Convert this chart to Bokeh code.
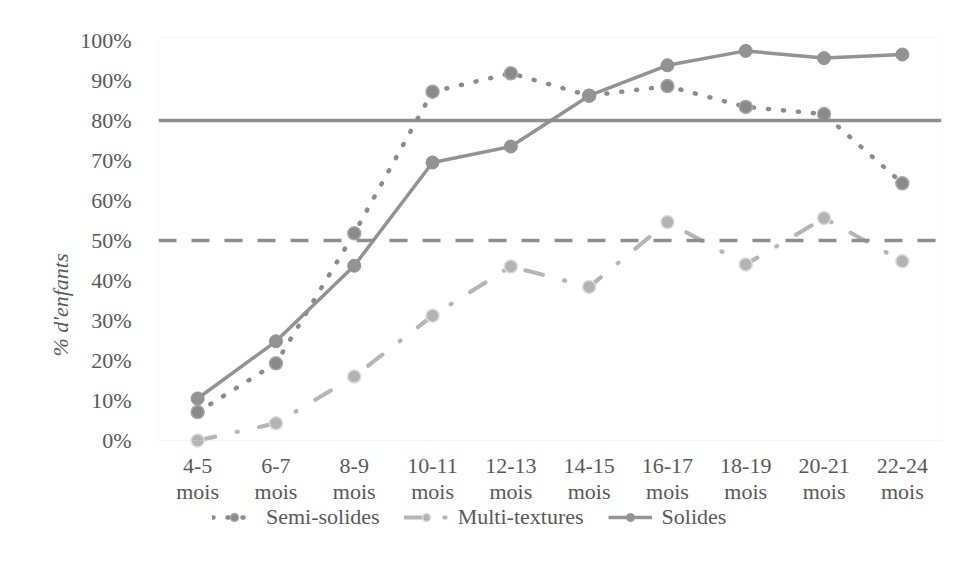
from bokeh.plotting import figure
from bokeh.models import (Range1d, Span, Legend, LegendItem, ColumnDataSource, FixedTicker,
                          BoxAnnotation, Title)
from bokeh.core.properties import value
from bokeh.embed import file_html
from bokeh.resources import INLINE

categories = ["4-5", "6-7", "8-9", "10-11", "12-13", "14-15", "16-17", "18-19", "20-21", "22-24"]
semi_solides = [0.071, 0.193, 0.518, 0.872, 0.918, 0.862, 0.886, 0.834, 0.816, 0.643]
multi_textures = [0.0, 0.043, 0.160, 0.312, 0.435, 0.384, 0.546, 0.440, 0.556, 0.448]
solides = [0.105, 0.248, 0.437, 0.695, 0.735, 0.862, 0.938, 0.974, 0.956, 0.965]
ref_solid = 0.80
ref_dashed = 0.50
y_ticks = [0, 0.1, 0.2, 0.3, 0.4, 0.5, 0.6, 0.7, 0.8, 0.9, 1.0]
x_label_suffix = "mois"
y_title = "% d'enfants"

FONT = "Liberation Serif"
TXT = "#595959"
FS = "22px"

pos = list(range(len(categories)))  # category slot index on the x scale
Y_TOP = 1.0075
Y_BOTTOM = -0.33   # room under the value area for category labels and legend

p = figure(width=950, height=572, x_range=Range1d(-0.5, len(categories) - 0.5),
           y_range=Range1d(Y_BOTTOM, Y_TOP),
           output_backend="svg", toolbar_location=None, x_axis_location=None,
           min_border_left=158, min_border_right=9, min_border_top=37, min_border_bottom=0)
p.outline_line_color = None
p.grid.visible = False

# plot-area border
p.add_layout(BoxAnnotation(left=-0.5, right=len(categories) - 0.5, bottom=0, top=Y_TOP,
                           fill_alpha=0, line_color="#d9d9d9", line_width=1.2))

# y axis
p.yaxis.ticker = FixedTicker(ticks=y_ticks)
p.yaxis.major_label_overrides = {t: f"{int(round(t*100))}%" for t in y_ticks}
p.yaxis.axis_line_color = None
p.yaxis.major_tick_line_color = None
p.yaxis.minor_tick_line_color = None
p.yaxis.major_label_standoff = 21
p.yaxis.major_label_text_font = FONT
p.yaxis.major_label_text_font_size = FS
p.yaxis.major_label_text_color = TXT

p.add_layout(Title(text=y_title, align="center", offset=64, text_font=FONT,
                   text_font_style="italic", text_font_size=FS, text_color=TXT), "left")

# category labels (two lines)
lab = ColumnDataSource(dict(x=pos, cat=categories, suf=[x_label_suffix] * len(categories)))
p.text("x", -0.0625, text="cat", source=lab, text_align="center", text_baseline="middle",
       text_font=value(FONT), text_font_size=value(FS), text_color=TXT)
p.text("x", -0.1275, text="suf", source=lab, text_align="center", text_baseline="middle",
       text_font=value(FONT), text_font_size=value(FS), text_color=TXT)

# reference lines
p.add_layout(Span(location=ref_solid, dimension="width", line_color="#8f8f8f", line_width=3.5))
p.add_layout(Span(location=ref_dashed, dimension="width", line_color="#8f8f8f", line_width=3.5,
                  line_dash="18 15"))

src = ColumnDataSource(dict(x=pos, semi=semi_solides, multi=multi_textures, sol=solides))

l1 = p.line("x", "semi", source=src, line_color="#8c8c8c", line_width=4.5, line_dash="1 14",
            line_cap="round")
m1 = p.scatter("x", "semi", source=src, size=13, fill_color="#8a8a8a", line_color="#a8a8a8",
               line_width=1.5)

l2 = p.line("x", "multi", source=src, line_color="#b5b5b5", line_width=4.2, line_dash="18 22 1 22",
            line_cap="round")
m2 = p.scatter("x", "multi", source=src, size=13, fill_color="#b3b3b3", line_color="#dcdcdc",
               line_width=1.5)

l3 = p.line("x", "sol", source=src, line_color="#939393", line_width=3.5)
m3 = p.scatter("x", "sol", source=src, size=13, fill_color="#939393", line_color="#939393",
               line_width=1)

legend = Legend(items=[LegendItem(label="Semi-solides", renderers=[l1, m1]),
                       LegendItem(label="Multi-textures", renderers=[l2, m2]),
                       LegendItem(label="Solides", renderers=[l3, m3])],
                orientation="horizontal", location=(54, 42),
                glyph_width=44, glyph_height=20, label_standoff=10, spacing=24,
                padding=0, margin=0, border_line_color=None, background_fill_alpha=0,
                label_text_font=FONT, label_text_font_size=FS, label_text_color=TXT)
p.add_layout(legend, "center")

open("out.html", "w").write(file_html(p, INLINE))
